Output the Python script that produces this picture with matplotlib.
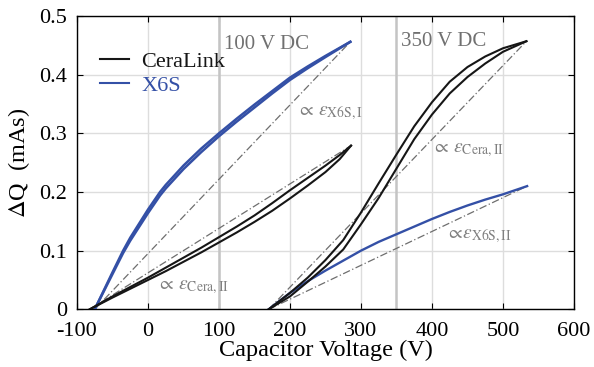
import numpy as np
import matplotlib
matplotlib.use('Agg')
import matplotlib.pyplot as plt

plt.rcParams['font.family'] = ['Liberation Serif', 'DejaVu Serif']
plt.rcParams['mathtext.fontset'] = 'stix'
plt.rcParams['axes.unicode_minus'] = False

# CeraLink loop at 100 V DC (upper / lower branch)
cera100_v = [-82, -50, -25, 0, 25, 50, 75, 100, 125, 150, 175, 200, 225, 250, 270, 286]
cera100_up = [0, 0.022, 0.038, 0.054, 0.071, 0.088, 0.105, 0.123, 0.141, 0.160,
              0.181, 0.203, 0.224, 0.245, 0.263, 0.279]
cera100_dn = [0, 0.020, 0.035, 0.050, 0.065, 0.081, 0.097, 0.114, 0.131, 0.149,
              0.168, 0.189, 0.211, 0.234, 0.256, 0.279]

# X6S loop at 100 V DC (very narrow)
x6s100_v = [-75, -50, -35, -25, 0, 17, 25, 50, 75, 100, 125, 150, 175, 200, 225, 250, 285]
x6s100_up = [0, 0.063, 0.100, 0.122, 0.170, 0.200, 0.212, 0.245, 0.274, 0.300,
             0.325, 0.349, 0.372, 0.395, 0.414, 0.432, 0.456]
x6s100_dn = [0, 0.060, 0.096, 0.117, 0.164, 0.194, 0.206, 0.239, 0.268, 0.295,
             0.320, 0.344, 0.368, 0.391, 0.411, 0.430, 0.456]

# CeraLink loop at 350 V DC
cera350_v = [170, 200, 225, 250, 275, 300, 325, 350, 375, 400, 425, 450, 475, 500, 533]
cera350_up = [0, 0.028, 0.054, 0.084, 0.118, 0.165, 0.215, 0.264, 0.312, 0.353,
              0.388, 0.413, 0.431, 0.445, 0.457]
cera350_dn = [0, 0.022, 0.047, 0.073, 0.102, 0.145, 0.190, 0.240, 0.290, 0.332,
              0.368, 0.396, 0.419, 0.439, 0.457]

# X6S at 350 V DC
x6s350_v = [170, 200, 225, 250, 275, 300, 325, 350, 375, 400, 425, 450, 475, 500, 534]
x6s350_q = [0, 0.028, 0.048, 0.066, 0.083, 0.100, 0.115, 0.128, 0.141, 0.154,
            0.166, 0.177, 0.187, 0.196, 0.210]

# straight secants (proportional to permittivity)
chords = {
    'cera100': ([-82, 286], [0, 0.279]),
    'x6s100': ([-75, 285], [0, 0.456]),
    'cera350': ([170, 533], [0, 0.457]),
    'x6s350': ([170, 534], [0, 0.210]),
}

xticks = [-100, 0, 100, 200, 300, 400, 500, 600]
yticks = [0, 0.1, 0.2, 0.3, 0.4, 0.5]
ytick_labels = ['0', '0.1', '0.2', '0.3', '0.4', '0.5']

black = '#161616'
blue = '#3450a6'
gray_txt = '#808080'

fig = plt.figure(figsize=(5.94, 3.67), dpi=100)
ax = fig.add_axes([0.1296, 0.1572, 0.8367, 0.7992])

ax.set_xlim(-100, 600)
ax.set_ylim(0, 0.5)
ax.set_xticks(xticks)
ax.set_yticks(yticks)
ax.set_yticklabels(ytick_labels)
ax.grid(True, color='#dddddd', lw=1.0, zorder=0)
ax.set_axisbelow(True)

# DC bias markers
for vdc in [100, 350]:
    ax.axvline(vdc, color='#c4c4c4', lw=1.8, zorder=1)

for key, (cx, cy) in chords.items():
    ax.plot(cx, cy, color='#6e6e6e', lw=0.9, dashes=(6, 2, 1, 2), zorder=2)

ax.plot(x6s100_v, x6s100_up, color=blue, lw=1.8, zorder=3)
ax.plot(x6s100_v, x6s100_dn, color=blue, lw=1.8, zorder=3)
ax.plot(x6s350_v, x6s350_q, color=blue, lw=1.7, zorder=3)

ax.plot(cera100_v, cera100_up, color=black, lw=1.5, zorder=4)
ax.plot(cera100_v, cera100_dn, color=black, lw=1.5, zorder=4)
ax.plot(cera350_v, cera350_up, color=black, lw=1.5, zorder=4)
ax.plot(cera350_v, cera350_dn, color=black, lw=1.5, zorder=4)

# legend handles
h1, = ax.plot([], [], color=black, lw=1.5)
h2, = ax.plot([], [], color=blue, lw=1.5)
leg = ax.legend([h1, h2], ['CeraLink', 'X6S'], loc='upper left',
                bbox_to_anchor=(0.02, 0.925), frameon=False, fontsize=16,
                handlelength=1.3, handletextpad=0.55, labelspacing=0.15,
                borderaxespad=0.2)
leg.get_texts()[0].set_color(black)
leg.get_texts()[1].set_color(blue)

# annotations
ax.text(107, 0.452, '100 V DC', color='#707070', fontsize=15, va='center')
ax.text(357, 0.457, '350 V DC', color='#707070', fontsize=15, va='center')
ax.text(210, 0.335, r'$\propto\,\varepsilon_{\mathrm{X6S,I}}$', color=gray_txt, fontsize=14, va='center')
ax.text(400, 0.272, r'$\propto\,\varepsilon_{\mathrm{Cera,II}}$', color=gray_txt, fontsize=14, va='center')
ax.text(420, 0.125, r'$\propto\!\varepsilon_{\mathrm{X6S,II}}$', color=gray_txt, fontsize=14, va='center')
ax.text(13, 0.038, r'$\propto\,\varepsilon_{\mathrm{Cera,II}}$', color=gray_txt, fontsize=14, va='center')

ax.tick_params(direction='in', top=True, right=True, length=4, width=0.8,
               labelsize=16)
ax.tick_params(axis='x', pad=9)
ax.tick_params(axis='y', pad=7)
for sp in ax.spines.values():
    sp.set_linewidth(1.0)

ax.set_xlabel('Capacitor Voltage (V)', fontsize=17.5, labelpad=-1)
ax.set_ylabel(r'$\Delta$Q  (mAs)', fontsize=17.5, labelpad=5)

fig.savefig('out.png', dpi=100)
plt.close('all')
